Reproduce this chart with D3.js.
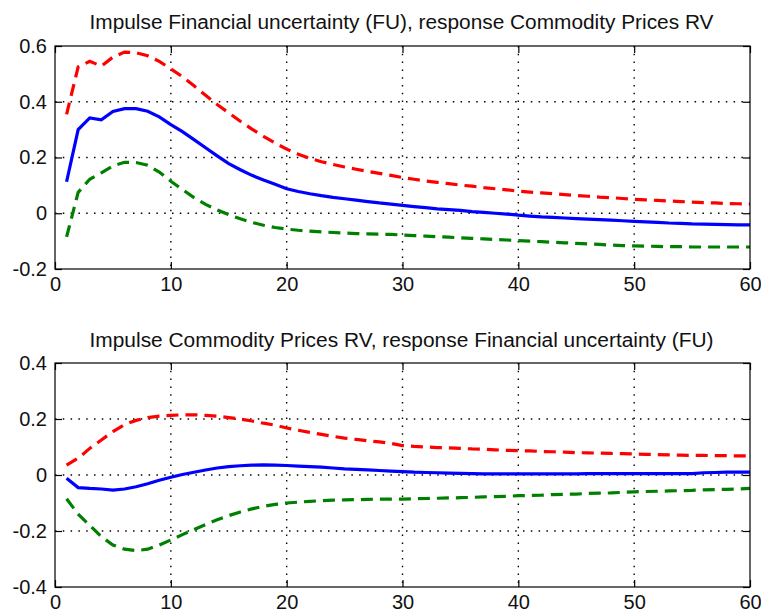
<!DOCTYPE html>
<html><head><meta charset="utf-8">
<script src="https://cdn.jsdelivr.net/npm/d3@7"></script>
<style>body{margin:0;background:#fff}svg{display:block}</style>
</head><body>
<script>
const horizon = d3.range(1, 61);
const xTicks = [0, 10, 20, 30, 40, 50, 60];

const topTitle = "Impulse Financial uncertainty (FU), response Commodity Prices RV";
const topYTicks = [-0.2, 0, 0.2, 0.4, 0.6];
const topMean = [0.113,0.300,0.342,0.335,0.365,0.375,0.375,0.366,0.346,0.318,
  0.293,0.264,0.235,0.206,0.178,0.156,0.136,0.119,0.104,0.088,
  0.078,0.070,0.063,0.057,0.052,0.047,0.042,0.037,0.033,0.028,
  0.024,0.020,0.016,0.013,0.010,0.006,0.003,0.000,-0.003,-0.007,
  -0.010,-0.013,-0.015,-0.017,-0.019,-0.021,-0.023,-0.025,-0.027,-0.029,
  -0.031,-0.033,-0.035,-0.036,-0.038,-0.039,-0.040,-0.041,-0.042,-0.042];
const topUpper = [0.355,0.525,0.545,0.528,0.560,0.578,0.576,0.565,0.545,0.518,
  0.490,0.457,0.423,0.390,0.360,0.330,0.302,0.276,0.252,0.230,
  0.212,0.197,0.185,0.175,0.166,0.158,0.150,0.143,0.136,0.128,
  0.122,0.116,0.111,0.106,0.101,0.097,0.092,0.088,0.084,0.079,
  0.076,0.073,0.070,0.067,0.064,0.061,0.058,0.056,0.053,0.050,
  0.048,0.046,0.044,0.042,0.040,0.038,0.037,0.035,0.034,0.033];
const topLower = [-0.085,0.075,0.122,0.145,0.170,0.183,0.182,0.172,0.148,0.115,
  0.085,0.056,0.032,0.012,-0.005,-0.020,-0.033,-0.043,-0.051,-0.057,
  -0.061,-0.064,-0.067,-0.069,-0.071,-0.073,-0.074,-0.075,-0.076,-0.078,
  -0.080,-0.082,-0.084,-0.086,-0.088,-0.090,-0.092,-0.094,-0.096,-0.098,
  -0.100,-0.102,-0.104,-0.106,-0.108,-0.110,-0.112,-0.114,-0.116,-0.117,
  -0.118,-0.119,-0.120,-0.120,-0.121,-0.121,-0.121,-0.121,-0.121,-0.121];

const botTitle = "Impulse Commodity Prices RV, response Financial uncertainty (FU)";
const botYTicks = [-0.4, -0.2, 0, 0.2, 0.4];
const botMean = [-0.012,-0.045,-0.048,-0.050,-0.054,-0.050,-0.042,-0.031,-0.019,-0.008,
  0.002,0.010,0.018,0.025,0.030,0.033,0.035,0.036,0.035,0.034,
  0.032,0.030,0.028,0.025,0.022,0.020,0.018,0.016,0.014,0.012,
  0.010,0.009,0.008,0.007,0.006,0.005,0.004,0.004,0.004,0.004,
  0.004,0.004,0.004,0.004,0.004,0.005,0.005,0.005,0.005,0.005,
  0.005,0.005,0.005,0.005,0.005,0.008,0.009,0.010,0.010,0.010];
const botUpper = [0.035,0.060,0.095,0.125,0.155,0.180,0.195,0.205,0.210,0.213,
  0.215,0.215,0.213,0.210,0.205,0.200,0.193,0.185,0.178,0.168,
  0.160,0.152,0.145,0.138,0.132,0.127,0.122,0.118,0.113,0.105,
  0.102,0.100,0.098,0.097,0.095,0.093,0.092,0.090,0.088,0.087,
  0.086,0.084,0.083,0.082,0.080,0.079,0.078,0.077,0.076,0.075,
  0.074,0.073,0.072,0.071,0.070,0.070,0.069,0.069,0.068,0.068];
const botLower = [-0.085,-0.140,-0.180,-0.220,-0.250,-0.265,-0.270,-0.265,-0.250,-0.232,
  -0.213,-0.195,-0.177,-0.160,-0.145,-0.132,-0.121,-0.112,-0.105,-0.100,
  -0.097,-0.094,-0.092,-0.090,-0.089,-0.088,-0.087,-0.086,-0.086,-0.086,
  -0.085,-0.084,-0.083,-0.082,-0.081,-0.080,-0.078,-0.077,-0.076,-0.074,
  -0.073,-0.072,-0.070,-0.069,-0.068,-0.066,-0.065,-0.064,-0.062,-0.060,
  -0.059,-0.058,-0.057,-0.056,-0.055,-0.053,-0.052,-0.051,-0.050,-0.048];

const W = 761, H = 614;
const FONT = "'Liberation Sans', Arial, sans-serif";
const svg = d3.select("body").append("svg").attr("width", W).attr("height", H);

function panel(cfg) {
  const { top, bottom, left, right, yTicks, title, titleY, mean, upper, lower } = cfg;
  const x = d3.scaleLinear().domain([0, 60]).range([left, right]);
  const y = d3.scaleLinear().domain([yTicks[0], yTicks[yTicks.length - 1]]).range([bottom, top]);
  const g = svg.append("g");

  // dotted grid
  const gridStyle = s => s.attr("stroke", "#000").attr("stroke-width", 1.4)
    .attr("stroke-dasharray", "1.5,6.3").attr("fill", "none");
  g.selectAll(".gx").data(xTicks.slice(1, -1)).join("line")
    .attr("x1", d => x(d)).attr("x2", d => x(d)).attr("y1", top).attr("y2", bottom).call(gridStyle);
  g.selectAll(".gy").data(yTicks.slice(1, -1)).join("line")
    .attr("x1", left).attr("x2", right).attr("y1", d => y(d)).attr("y2", d => y(d)).call(gridStyle);

  // series
  const line = d3.line().x((d, i) => x(horizon[i])).y(d => y(d));
  g.append("path").datum(upper).attr("d", line).attr("fill", "none")
    .attr("stroke", "#ff0000").attr("stroke-width", 3.2).attr("stroke-dasharray", "12,7");
  g.append("path").datum(lower).attr("d", line).attr("fill", "none")
    .attr("stroke", "#008000").attr("stroke-width", 3.2).attr("stroke-dasharray", "12,7");
  g.append("path").datum(mean).attr("d", line).attr("fill", "none")
    .attr("stroke", "#0000ff").attr("stroke-width", 3.2);

  // axes with inward ticks on all sides
  const tl = 7;
  const ax = g.append("g").attr("font-family", FONT).attr("font-size", 20).attr("fill", "#000");
  const axB = d3.axisBottom(x).tickValues(xTicks).tickSizeInner(-tl).tickSizeOuter(0).tickPadding(8).tickFormat(d3.format("d"));
  const axT = d3.axisTop(x).tickValues(xTicks).tickSizeInner(-tl).tickSizeOuter(0).tickFormat("");
  const fmt = v => v === 0 ? "0" : String(+v.toFixed(1));
  const axL = d3.axisLeft(y).tickValues(yTicks).tickSizeInner(-tl).tickSizeOuter(0).tickPadding(8).tickFormat(fmt);
  const axR = d3.axisRight(y).tickValues(yTicks).tickSizeInner(-tl).tickSizeOuter(0).tickFormat("");
  [[axB, `translate(0,${bottom})`], [axT, `translate(0,${top})`], [axL, `translate(${left},0)`], [axR, `translate(${right},0)`]]
    .forEach(([a, t]) => {
      const s = ax.append("g").attr("transform", t).call(a);
      s.select(".domain").remove();
      s.selectAll("line").attr("stroke", "#000").attr("stroke-width", 1.2);
      s.selectAll("text").attr("font-family", FONT).attr("font-size", 20).attr("fill", "#111");
    });
  g.append("rect").attr("x", left).attr("y", top).attr("width", right - left).attr("height", bottom - top)
    .attr("fill", "none").attr("stroke", "#000").attr("stroke-width", 1.2);

  g.append("text").attr("x", (left + right) / 2 - 1).attr("y", titleY).attr("text-anchor", "middle")
    .attr("font-family", FONT).attr("font-size", 20).attr("fill", "#111")
    .attr("textLength", 624).attr("lengthAdjust", "spacingAndGlyphs").text(title);
}

panel({ top: 46, bottom: 269, left: 55, right: 750, yTicks: topYTicks, title: topTitle, titleY: 29,
  mean: topMean, upper: topUpper, lower: topLower });
panel({ top: 363, bottom: 587, left: 55, right: 750, yTicks: botYTicks, title: botTitle, titleY: 347,
  mean: botMean, upper: botUpper, lower: botLower });
</script>
</body></html>
